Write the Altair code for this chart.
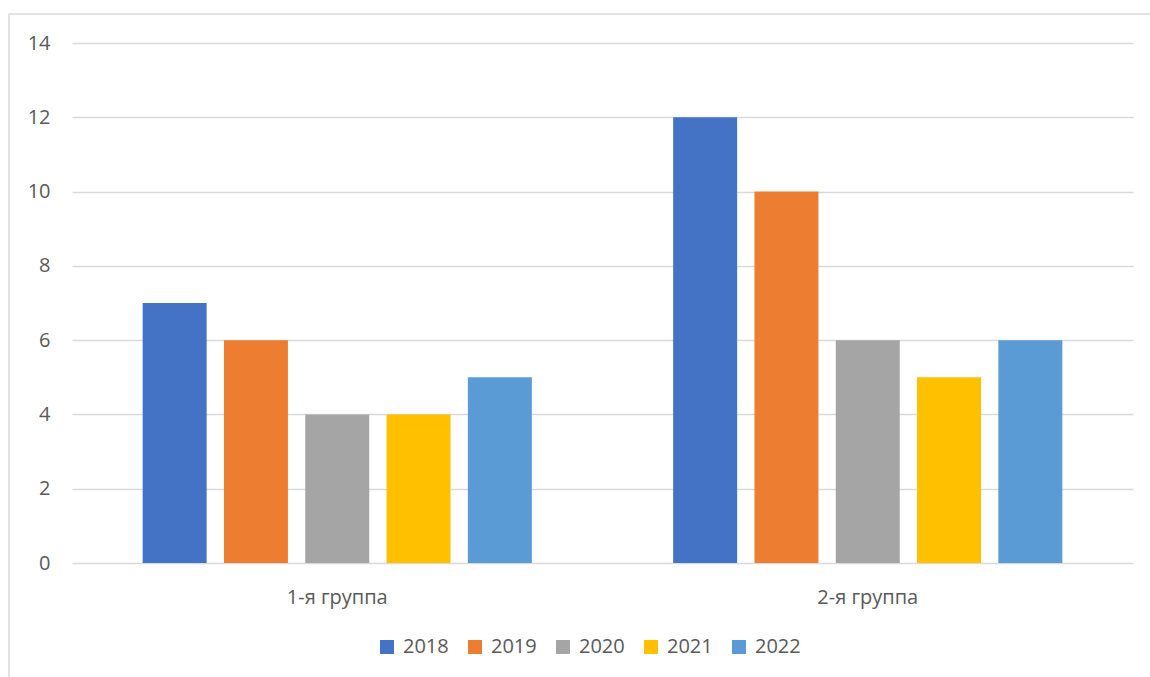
import altair as alt
import pandas as pd

groups = ["1-я группа", "2-я группа"]
years = ["2018", "2019", "2020", "2021", "2022"]
values_g1 = [7, 6, 4, 4, 5]
values_g2 = [12, 10, 6, 5, 6]
colors = ["#4472C4", "#ED7D31", "#A5A5A5", "#FFC000", "#5B9BD5"]
y_ticks = [0, 2, 4, 6, 8, 10, 12, 14]

rows = []
for g, vals in zip(groups, [values_g1, values_g2]):
    for yr, v in zip(years, vals):
        rows.append({"group": g, "year": yr, "value": v})
df = pd.DataFrame(rows)

FONT = "Open Sans"
TXT = "#595959"
GRID = "#d9d9d9"

bars = alt.Chart(df).mark_bar().encode(
    x=alt.X("group:N", sort=groups,
            scale=alt.Scale(paddingInner=0, paddingOuter=0),
            axis=alt.Axis(title=None, labelAngle=0, ticks=False, domain=False,
                          grid=False, labelPadding=24, labelFontSize=20,
                          labelColor=TXT, labelFont=FONT)),
    xOffset=alt.XOffset("year:N", sort=years,
                        scale=alt.Scale(paddingInner=0.213, paddingOuter=0.869)),
    y=alt.Y("value:Q", scale=alt.Scale(domain=[0, 14], nice=False),
            axis=alt.Axis(title=None, values=y_ticks, ticks=False, domain=False,
                          grid=True, gridColor=GRID, gridWidth=1.5,
                          labelPadding=22, labelFontSize=20, labelColor=TXT,
                          labelFont=FONT)),
    color=alt.Color("year:N", sort=years,
                    scale=alt.Scale(domain=years, range=colors),
                    legend=alt.Legend(title=None, orient="none", direction="horizontal",
                                      legendX=305, legendY=594, padding=0,
                                      symbolType="square", symbolSize=196,
                                      symbolStrokeWidth=0, labelFontSize=20,
                                      labelColor=TXT, labelFont=FONT,
                                      columnPadding=16, labelOffset=6)),
)

frame = pd.DataFrame({"k": [0]})
top_border = alt.Chart(frame).mark_rule(color=GRID, strokeWidth=1.5).encode(
    x=alt.value(-63), x2=alt.value(1100), y=alt.value(-29))
left_border = alt.Chart(frame).mark_rule(color=GRID, strokeWidth=1.5).encode(
    x=alt.value(-63), y=alt.value(-29), y2=alt.value(700))

chart = alt.layer(top_border, left_border, bars).properties(
    width=1061, height=520,
    autosize=alt.AutoSizeParams(type="none"),
    padding={"left": 72, "top": 43, "right": 17, "bottom": 114},
    background="white",
).configure_view(stroke=None)

chart.save("out.html", embed_options={"renderer": "svg", "actions": False})
